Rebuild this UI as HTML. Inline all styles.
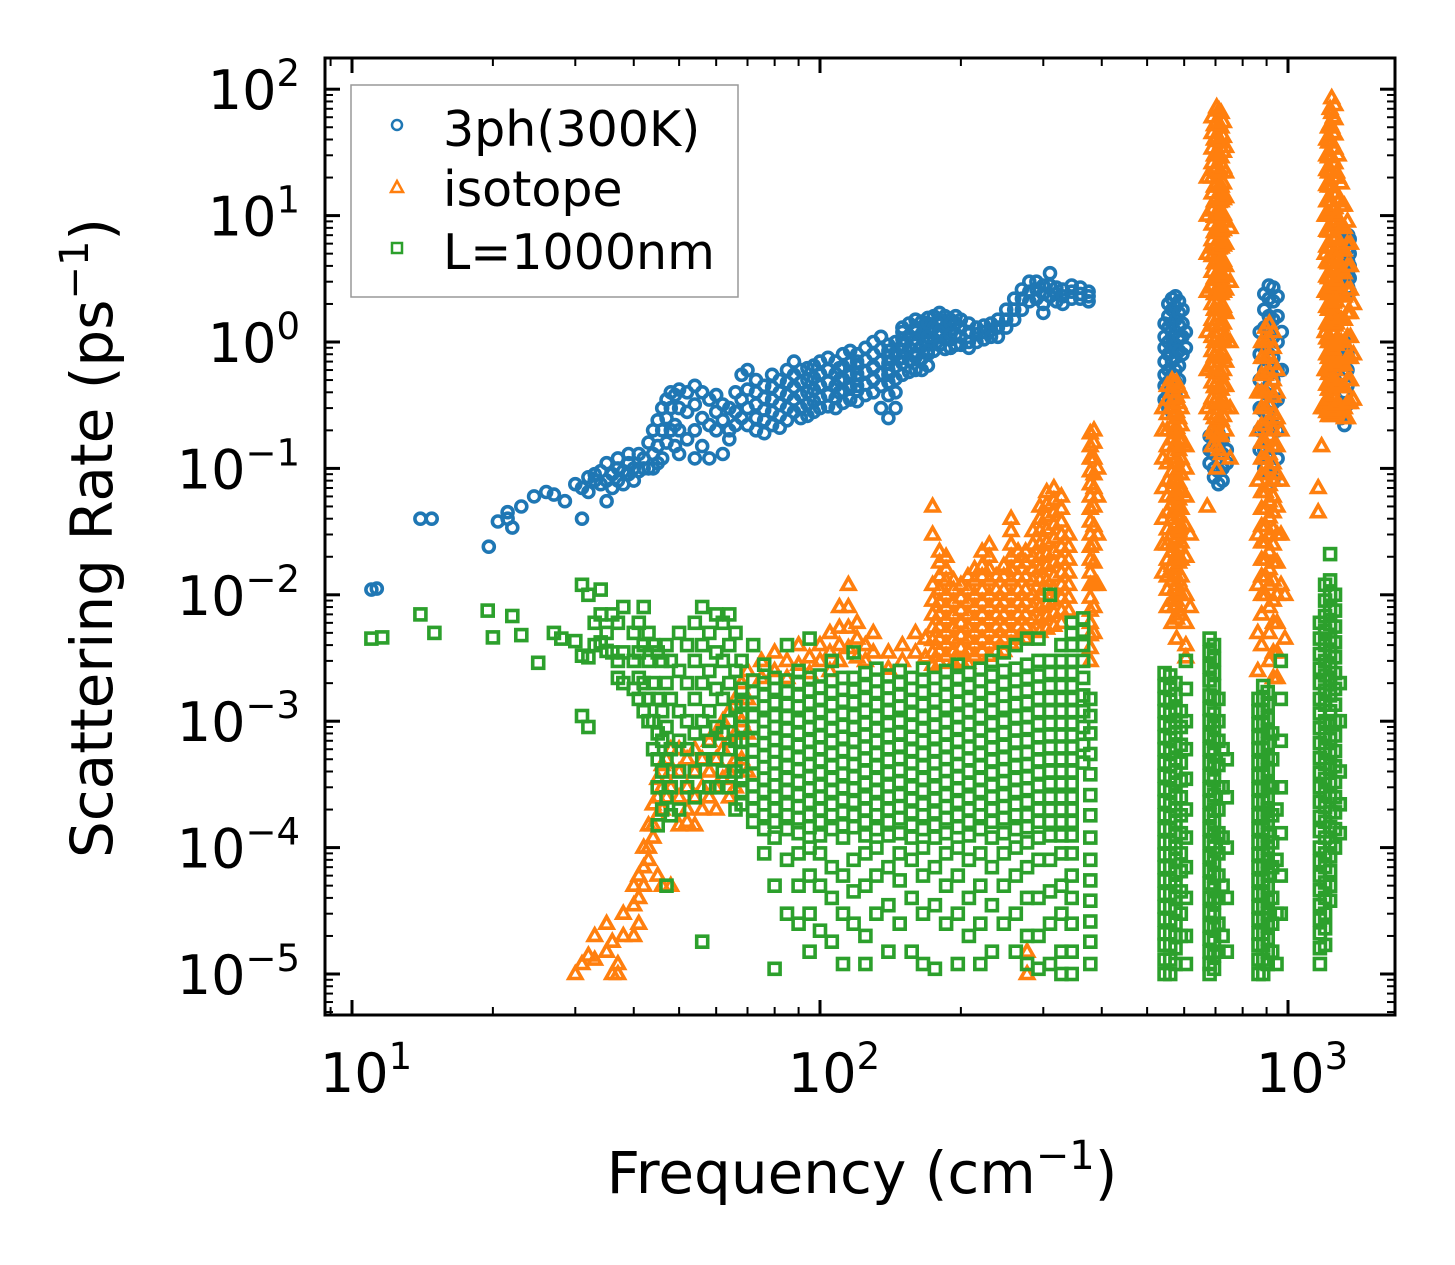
<!DOCTYPE html>
<html><head><meta charset="utf-8"><style>
html,body{margin:0;padding:0;background:#fff;}
svg{display:block;font-family:"DejaVu Sans","Liberation Sans",sans-serif;}
</style></head><body>
<svg id="chart" width="1455" height="1265" viewBox="0 0 1455 1265" xmlns="http://www.w3.org/2000/svg">
<rect x="0" y="0" width="1455" height="1265" fill="#fff"/>
<g id="marks"></g>
<g id="axes"></g>
<g id="legend">
<rect x="351" y="85" width="387" height="212" fill="#fff" fill-opacity="0.85" stroke="#999" stroke-width="1.5"/>
<g><circle cx="397" cy="125" r="5" fill="none" stroke="#1f77b4" stroke-width="2.5"/><text x="443" y="146" font-size="49">3ph(300K)</text></g>
<g><path d="M397,181 L403,192 L391,192 Z" fill="none" stroke="#ff7f0e" stroke-width="2.5"/><text x="443" y="206" font-size="49">isotope</text></g>
<g><rect x="392" y="243" width="10" height="10" fill="none" stroke="#2ca02c" stroke-width="2.5"/><text x="443" y="269" font-size="49">L=1000nm</text></g>
</g>
<text transform="translate(112,538) rotate(-90)" text-anchor="middle" font-size="58">Scattering Rate (ps<tspan dy="-24" font-size="40">−1</tspan><tspan dy="24">)</tspan></text>
<text x="862" y="1193" text-anchor="middle" font-size="58">Frequency (cm<tspan dy="-24" font-size="40">−1</tspan><tspan dy="24">)</tspan></text>
</svg>
<script>
// ---- axis configuration ----
const xTickExps = [1, 2, 3];
const yTickExps = [2, 1, 0, -1, -2, -3, -4, -5];

// ---- 3ph(300K) series: x column positions and y values per column ----
const blueX = [11,11.3,14,14.8,19.6,20.5,21.5,22,23,24.5,26,27,28.5,30,31,32,33,34,35,36,37,38,39,40,41,42,43,44,45,46,47,48,49,50,52,54,56,58,60,62,64,66,68,70,73,76,79,82,85,88,91,94,97,100,104,108,112,116,120,125,130,135,140,145,150,155,160,165,170,175,180,185,190,195,200,208,216,224,232,240,250,260,270,280,290,300,310,320,330,345,360,375,
 545,555,565,575,585,595,605, 680,695,710,725,740, 870,890,910,930,950,970, 1300,1320,1340,1345,1355,
 150,160,170,180,190,100,110,120,130,140];
const blueY = [[0.011],[0.0112],[0.04],[0.04],[0.024],[0.038],[0.045,0.04],[0.034],[0.05],[0.06],[0.065],[0.062],[0.055],[0.075],[0.04,0.07],[0.085,0.065],[0.09,0.08],[0.075,0.095],[0.055,0.11,0.08],[0.07,0.09],[0.1,0.12,0.08],[0.095,0.075],[0.11,0.09,0.13],[0.1,0.08],[0.13,0.095],[0.1,0.12],[0.16,0.1],[0.2,0.13,0.1],[0.24,0.15,0.11],[0.3,0.2,0.12],[0.35,0.25,0.16],[0.4,0.3,0.2],[0.38,0.22,0.15],[0.42,0.3,0.2,0.13],[0.4,0.28,0.17],[0.45,0.32,0.2,0.12],[0.4,0.25,0.15],[0.35,0.22,0.12],[0.38,0.28,0.2],[0.32,0.24,0.13],[0.3,0.2,0.17],[0.4,0.28,0.22],[0.55,0.35,0.25],[0.6,0.42,0.3,0.22],[0.5,0.4,0.32,0.25,0.2],[0.45,0.36,0.29,0.24,0.19],[0.55,0.44,0.35,0.28,0.22],[0.5,0.4,0.32,0.26,0.21],[0.6,0.48,0.38,0.3,0.24],[0.7,0.55,0.44,0.35,0.28],[0.6,0.48,0.38,0.3,0.25],[0.62,0.5,0.4,0.32,0.26],[0.65,0.52,0.42,0.34,0.28],[0.7,0.56,0.45,0.36,0.3],[0.75,0.6,0.48,0.38,0.31],[0.7,0.56,0.45,0.36,0.3],[0.8,0.64,0.51,0.41,0.33],[0.85,0.68,0.54,0.43,0.35],[0.8,0.64,0.51,0.41,0.34],[0.9,0.72,0.58,0.46,0.38],[1.0,0.8,0.64,0.51,0.4],[1.1,0.88,0.7,0.56,0.45,0.3],[0.95,0.76,0.6,0.48,0.38,0.25],[1.0,0.8,0.64,0.51,0.4,0.3],[1.3,1.05,0.85,0.68,0.55],[1.4,1.12,0.9,0.72,0.58],[1.5,1.2,0.95,0.76,0.6],[1.45,1.16,0.93,0.74,0.6],[1.55,1.25,1.0,0.8,0.65],[1.6,1.3,1.05,0.85],[1.7,1.4,1.15,0.95],[1.6,1.3,1.05,0.88],[1.5,1.25,1.05,0.9],[1.6,1.4,1.15,0.95],[1.5,1.3,1.1,0.95],[1.4,1.2,1.0,0.9],[1.3,1.15,1.0],[1.35,1.2,1.05],[1.4,1.25,1.1],[1.5,1.3,1.1],[1.8,1.5,1.3],[2.2,1.8,1.5],[2.6,2.2,1.8],[3.0,2.5,2.1],[3.0,2.6,2.2],[2.8,2.4,2.0,1.7],[3.5,2.8,2.3],[2.7,2.4,2.1],[2.6,2.3,2.0],[2.8,2.5,2.2],[2.7,2.4,2.2],[2.5,2.3,2.1],
 [1.4,1.1,0.9,0.7,0.55,0.45,0.35],[2.0,1.6,1.3,1.0,0.8,0.6,0.48,0.38,0.3],[2.2,1.8,1.4,1.1,0.9,0.7,0.55,0.45,0.35,0.28],[2.3,1.9,1.5,1.2,0.95,0.75,0.6,0.48,0.38],[2.1,1.7,1.35,1.1,0.85,0.65,0.5],[1.8,1.4,1.1,0.8],[1.2,0.9],
 [0.18,0.14,0.11],[0.2,0.16,0.13,0.1,0.085],[0.19,0.15,0.12,0.095,0.075],[0.17,0.13,0.1,0.08],[0.14,0.11],
 [1.2,0.8,0.5,0.3,0.2,0.14],[2.4,1.8,1.3,0.9,0.6,0.4,0.28,0.2,0.14,0.1],[2.8,2.2,1.6,1.2,0.8,0.55,0.38,0.26,0.18,0.12,0.09],[2.7,2.1,1.5,1.1,0.75,0.5,0.33,0.22,0.15,0.1,0.08],[2.3,1.6,1.0,0.6,0.35,0.2,0.12],[1.2,0.6],
 [0.9,0.65,0.45,0.32,0.25],[1.0,0.75,0.55,0.4,0.3,0.22],[0.8,0.6,0.45,0.32],[7,5.5,4.3,3.4,2.7],[6.5,5,4,3.2,2.5],
 [1.2,0.95,0.75],[1.3,1.05,0.8],[1.4,1.1,0.85],[1.5,1.2,0.95],[1.4,1.15,0.9],[0.55,0.45,0.36],[0.62,0.5,0.4],[0.7,0.56,0.45],[0.8,0.62,0.5],[0.85,0.68,0.55]];

// ---- isotope series ----
const orangeX = [30,31,32,33,35,36,37,38,40,41,42,43,44,45,46,47,48,50,52,54,56,58,60,62,64,66,68,70,75,80,85,90,95,100,105,110,115,120,125,130,140,150,160,168,
 174,180,186,193,200,207,214,222,230,238,247,256,265,275,285,295,305,316,328,340,277,
 378,385,392,
 540,552,565,578,591,605,618,
 672,688,704,720,736,752,
 862,878,895,912,930,948,966,985,
 1160,1180,1200,1220,1240,1260,1280,1300,1320,1340,1360,1380,
 696,712,728,1210,1230,1250,1270,571,584];
const orangeY = [[1e-5],[1.2e-5],[1.4e-5],[1.3e-5,2e-5],[1.5e-5,2.5e-5],[1e-5,1.8e-5],[1.2e-5,1e-5],[2e-5,3e-5],[2e-5,3.5e-5,5e-5],[4e-5,6e-5,2.5e-5],[7e-5,1e-4,5e-5],[1e-4,1.5e-4,8e-5],[1.5e-4,2.2e-4,1.2e-4],[2.5e-4,3.5e-4,1.8e-4,6e-5],[3e-4,4.5e-4,2e-4,5e-5],[3.5e-4,5e-4,2.5e-4],[4e-4,6e-4,3e-4,5e-5],[4e-4,6e-4,2.5e-4,1.5e-4],[5e-4,3e-4,2e-4,1.6e-4],[6e-4,4e-4,2.5e-4,1.5e-4],[5e-4,3e-4,2e-4],[7e-4,4e-4,2.5e-4],[8e-4,5e-4,3e-4,2e-4],[1e-3,6e-4,3.5e-4],[1.2e-3,7e-4,4e-4,2.5e-4],[1.5e-3,8e-4,5e-4,3e-4],[2e-3,1e-3,5e-4],[2.5e-3,1.5e-3,8e-4,4e-4],
 [3e-3,2.2e-3],[3.5e-3,2.5e-3],[3e-3,2.2e-3],[4e-3,2.8e-3],[3.2e-3,2.4e-3],[4e-3,3e-3],[5e-3,3.5e-3,2.5e-3],[8e-3,5.5e-3,4e-3,3e-3],[1.2e-2,8e-3,5.5e-3,3.8e-3],[6e-3,4.5e-3,3.2e-3],[4e-3,3e-3],[5e-3,3.5e-3],[3.5e-3,2.6e-3],[4e-3,3e-3],[5e-3,3.5e-3],[4.5e-3,3.2e-3],
 [0.05,0.03,0.012,0.009,0.007,0.0055,0.0044,0.0035,0.0028],[0.022,0.018,0.014,0.011,0.0088,0.007,0.0056,0.0045,0.0036,0.0029],[0.02,0.016,0.013,0.01,0.008,0.0064,0.0051,0.0041,0.0033],[0.013,0.011,0.0088,0.007,0.0056,0.0045,0.0036,0.0029],[0.012,0.0095,0.0076,0.006,0.0048,0.0038,0.003],[0.014,0.011,0.0088,0.007,0.0056,0.0045,0.0036,0.0029],[0.016,0.013,0.01,0.008,0.0064,0.0051,0.0041,0.0033],[0.022,0.017,0.014,0.011,0.0088,0.007,0.0056,0.0045,0.0036],[0.025,0.02,0.016,0.013,0.01,0.008,0.0064,0.0051,0.0041,0.0033],[0.014,0.011,0.0088,0.007,0.0056,0.0045,0.0036],[0.017,0.014,0.011,0.0088,0.007,0.0056,0.0045,0.0036],[0.04,0.032,0.025,0.02,0.016,0.013,0.01,0.008,0.0064,0.0051,0.0041],[0.022,0.018,0.014,0.011,0.0088,0.007,0.0056,0.0045],[0.022,0.018,0.014,0.011,0.0088,0.007,0.0056,0.0045],[0.032,0.025,0.02,0.016,0.013,0.01,0.008,0.0064,0.0051],[0.05,0.04,0.032,0.025,0.02,0.016,0.013,0.01,0.008,0.0064,0.0051],[0.065,0.052,0.042,0.033,0.026,0.021,0.017,0.013,0.011,0.0085,0.0068,0.0054],[0.07,0.056,0.045,0.036,0.028,0.022,0.018,0.014,0.011,0.009,0.0072,0.0057],[0.06,0.048,0.038,0.03,0.024,0.019,0.015,0.012,0.0095,0.0075,0.006],[0.03,0.024,0.019,0.015,0.012,0.0095,0.0075],[1e-5,1.5e-5],
 [0.19,0.15,0.12,0.095,0.075,0.06,0.048,0.038,0.03,0.024,0.019,0.015,0.012,0.0095,0.0075,0.006,0.0048,0.0038,0.003],[0.2,0.16,0.12,0.09,0.07,0.05,0.035,0.025,0.018,0.012,0.008,0.005],[0.1,0.06,0.03,0.012],
 [0.3,0.2,0.12,0.07,0.04,0.025,0.015],[0.45,0.35,0.27,0.2,0.15,0.11,0.08,0.06,0.045,0.033,0.025,0.019,0.014,0.011,0.008],[0.5,0.4,0.3,0.22,0.17,0.13,0.095,0.07,0.052,0.04,0.03,0.022,0.017,0.013,0.009,0.006],[0.48,0.37,0.28,0.21,0.16,0.12,0.09,0.066,0.05,0.037,0.028,0.021,0.016,0.012,0.009,0.0065,0.0045],[0.4,0.3,0.22,0.16,0.12,0.09,0.065,0.048,0.035,0.026,0.019,0.014,0.01,0.007],[0.15,0.1,0.06,0.035,0.02,0.01,0.006,0.004,0.0032],[0.03,0.008],
 [20,10,5,2.5,1.2,0.6,0.3,0.05],[60,45,34,26,20,15,11,8.5,6.4,4.8,3.6,2.7,2,1.5,1.1,0.85,0.64,0.48,0.36,0.27,0.2,0.15],[72,55,42,32,24,18,14,10.5,8,6,4.5,3.4,2.6,2,1.5,1.1,0.85,0.64,0.48,0.36,0.27,0.2,0.15,0.1],[65,50,38,29,22,17,13,10,7.5,5.6,4.2,3.2,2.4,1.8,1.35,1,0.75,0.56,0.42,0.32,0.24,0.18,0.13],[35,22,14,9,6,4,2.6,1.7,1.1,0.7,0.45,0.3,0.2],[8,3,1,0.3,0.12],
 [0.4,0.2,0.08,0.03,0.012,0.005,0.0025],[1.0,0.75,0.55,0.4,0.3,0.22,0.16,0.12,0.09,0.065,0.048,0.035,0.026,0.019,0.014,0.01,0.007,0.004],[1.3,1.0,0.75,0.55,0.4,0.3,0.22,0.16,0.12,0.09,0.065,0.048,0.035,0.026,0.019,0.014,0.01],[1.4,1.05,0.78,0.58,0.43,0.32,0.24,0.18,0.13,0.1,0.074,0.055,0.041,0.03,0.022,0.016,0.012,0.008,0.005,0.003],[1.2,0.9,0.67,0.5,0.37,0.27,0.2,0.15,0.11,0.08,0.06,0.045,0.033,0.025,0.018,0.013,0.009,0.006,0.0035,0.0022],[0.6,0.4,0.25,0.15,0.09,0.05,0.03,0.018,0.01,0.006,0.0035,0.0022],[0.2,0.08,0.03,0.012],[0.01,0.0045],
 [0.07,0.045],[0.3,0.15],[10,5,2.5,1.2,0.6,0.3],[50,38,29,22,17,13,10,7.5,5.6,4.2,3.2,2.4,1.8,1.35,1,0.75,0.56,0.42,0.32,0.26],[85,65,50,38,29,22,17,13,10,7.5,5.6,4.2,3.2,2.4,1.8,1.35,1,0.75,0.56,0.42,0.32,0.26],[75,58,44,34,26,20,15,11.5,8.8,6.7,5.1,3.9,3,2.3,1.75,1.35,1,0.78,0.6,0.46,0.35,0.27],[30,20,13,8.5,5.5,3.6,2.4,1.6,1.05,0.7,0.45,0.3],[18,12,8,5.3,3.5,2.3,1.5,1,0.66,0.44,0.3],[12,8,5.3,3.5,2.3,1.5,1,0.66,0.44,0.3,0.25],[9,6,4,2.6,1.7,1.1,0.75,0.5,0.33,0.25],[6,4,2.6,1.7,1.1,0.75,0.5,0.33],[2,0.8,0.35],
 [52,40,30,23,17,13,9.8,7.4,5.6,4.2,3.2,2.4,1.8,1.35,1,0.77,0.58,0.44,0.33,0.25,0.19],[68,52,39,30,22,17,12.8,9.7,7.3,5.5,4.2,3.1,2.4,1.8,1.35,1,0.77,0.58,0.44,0.33,0.25,0.19,0.14],[55,42,32,24,18,13.5,10.2,7.7,5.8,4.4,3.3,2.5,1.9,1.4,1.05,0.8,0.6,0.45,0.34,0.26],
 [40,30,23,17.5,13,10,7.6,5.7,4.3,3.3,2.5,1.9,1.4,1.07,0.8,0.6,0.46,0.35,0.28],[70,53,40,30,23,17.5,13,10,7.6,5.7,4.3,3.3,2.5,1.9,1.4,1.07,0.8,0.6,0.46,0.35,0.28],[60,45,34,26,20,15,11.3,8.5,6.4,4.8,3.6,2.7,2.05,1.55,1.17,0.88,0.66,0.5,0.38,0.29],[22,15,10,6.8,4.6,3.1,2.1,1.4,0.95,0.65,0.45,0.32],
 [0.47,0.36,0.27,0.2,0.15,0.11,0.082,0.062,0.046,0.034,0.026,0.019,0.014,0.011,0.008],[0.44,0.33,0.25,0.19,0.14,0.1,0.077,0.057,0.043,0.032,0.024,0.018,0.013,0.01,0.0075]];

// ---- L=1000nm boundary series ----
const greenX = [11,11.6,14,15,19.5,20,22,23,25,27,28,30,31,32,33,34,35,36,37,38,40,41,42,43,44,45,46,47,48,50,52,54,56,58,60,62,64,66,
 68,72,76,80,85,90,95,100,106,112,118,125,132,140,148,157,166,176,186,197,208,220,233,247,262,277,293,310,328,345,
 365,378,
 545,560,575,590,605,
 680,695,710,725,740,
 865,885,905,925,945,965,
 1170,1200,1230,1260,1290,1320,1350];
const greenY = [[4.5e-3],[4.6e-3],[7e-3],[5e-3],[7.5e-3],[4.6e-3],[6.8e-3],[4.8e-3],[2.9e-3],[5e-3],[4.5e-3],[4.3e-3],[1.2e-2,3.3e-3,1.1e-3],[1e-2,3.2e-3,9e-4],[6e-3,4e-3],[1.1e-2,7e-3,4.2e-3],[5e-3,3.6e-3],[7e-3,3.5e-3],[6e-3,3e-3,2.2e-3],[8e-3,3.5e-3,2e-3],[5e-3,3e-3,1.8e-3],[6e-3,3.5e-3,2.2e-3,1.5e-3],[8e-3,4e-3,2e-3,1.2e-3],[5e-3,3e-3,1.5e-3,1e-3],[4e-3,2e-3,1e-3,6e-4],[3.5e-3,1.5e-3,8e-4,5e-4,3e-4,1.5e-4],[3e-3,1.2e-3,7e-4,4e-4,2e-4],[4e-3,2e-3,9e-4,5e-4,2.5e-4,5e-5],[3e-3,1.5e-3,6e-4,3e-4,1.8e-4],[5e-3,2.5e-3,1.2e-3,7e-4,4e-4,2e-4],[4e-3,2e-3,1e-3,6e-4,3e-4],[6e-3,3e-3,1.5e-3,8e-4,4e-4,2.5e-4],[8e-3,4e-3,2e-3,1e-3,5e-4,1.8e-5],[5e-3,2.5e-3,1.2e-3,7e-4,3e-4],[7e-3,3.5e-3,1.8e-3,9e-4,5e-4,3e-4],[6e-3,3e-3,1.5e-3,8e-4,4e-4],[7e-3,4e-3,2e-3,1e-3,6e-4,3e-4],[5e-3,2.5e-3,1.3e-3,7e-4,4e-4,2e-4],
 [3e-3,1.8e-3,1.4e-3,1.1e-3,9e-4,7e-4,5.6e-4,4.5e-4,3.6e-4,2.8e-4,2.2e-4],
 [4e-3,2.1e-3,1.7e-3,1.4e-3,1.1e-3,9e-4,7.2e-4,5.8e-4,4.7e-4,3.8e-4,3.1e-4,2.5e-4,2e-4,1.6e-4],
 [2.8e-3,2e-3,1.6e-3,1.3e-3,1e-3,8.2e-4,6.6e-4,5.3e-4,4.3e-4,3.5e-4,2.8e-4,2.2e-4,1.8e-4,1.4e-4,9e-5],
 [2.2e-3,1.8e-3,1.4e-3,1.1e-3,9e-4,7.2e-4,5.8e-4,4.7e-4,3.8e-4,3.1e-4,2.5e-4,2e-4,1.6e-4,1.2e-4,5e-5,1.1e-5],
 [4e-3,2.1e-3,1.7e-3,1.35e-3,1.08e-3,8.6e-4,6.9e-4,5.5e-4,4.4e-4,3.5e-4,2.8e-4,2.2e-4,1.8e-4,1.4e-4,8e-5,3e-5],
 [2.5e-3,2e-3,1.6e-3,1.3e-3,1e-3,8e-4,6.4e-4,5.1e-4,4.1e-4,3.3e-4,2.6e-4,2.1e-4,1.7e-4,1.3e-4,9e-5,5e-5,2.5e-5],
 [4.5e-3,2.2e-3,1.75e-3,1.4e-3,1.1e-3,8.8e-4,7e-4,5.6e-4,4.5e-4,3.6e-4,2.9e-4,2.3e-4,1.8e-4,1.45e-4,1e-4,6e-5,3e-5,1.5e-5],
 [2.3e-3,1.85e-3,1.5e-3,1.2e-3,9.5e-4,7.6e-4,6.1e-4,4.9e-4,3.9e-4,3.1e-4,2.5e-4,2e-4,1.6e-4,1.25e-4,9e-5,5e-5,2.2e-5],
 [3e-3,2.1e-3,1.7e-3,1.35e-3,1.08e-3,8.6e-4,6.9e-4,5.5e-4,4.4e-4,3.5e-4,2.8e-4,2.2e-4,1.8e-4,1.4e-4,7e-5,4e-5,1.8e-5],
 [2.2e-3,1.8e-3,1.45e-3,1.15e-3,9.2e-4,7.4e-4,5.9e-4,4.7e-4,3.8e-4,3e-4,2.4e-4,1.9e-4,1.5e-4,1.2e-4,6e-5,3e-5,1.2e-5],
 [3.5e-3,2.2e-3,1.75e-3,1.4e-3,1.1e-3,8.8e-4,7e-4,5.6e-4,4.5e-4,3.6e-4,2.9e-4,2.3e-4,1.8e-4,1.45e-4,8e-5,4.5e-5,2.5e-5],
 [2.4e-3,1.9e-3,1.5e-3,1.2e-3,9.6e-4,7.7e-4,6.2e-4,5e-4,4e-4,3.2e-4,2.5e-4,2e-4,1.6e-4,1.25e-4,9e-5,5e-5,2e-5,1.2e-5],
 [2.6e-3,2.1e-3,1.7e-3,1.35e-3,1.08e-3,8.6e-4,6.9e-4,5.5e-4,4.4e-4,3.5e-4,2.8e-4,2.2e-4,1.8e-4,1.4e-4,1e-4,6e-5,3e-5],
 [2.3e-3,1.85e-3,1.5e-3,1.2e-3,9.5e-4,7.6e-4,6.1e-4,4.9e-4,3.9e-4,3.1e-4,2.5e-4,2e-4,1.6e-4,1.25e-4,7e-5,3.5e-5,1.5e-5],
 [2.5e-3,2e-3,1.6e-3,1.3e-3,1e-3,8e-4,6.4e-4,5.1e-4,4.1e-4,3.3e-4,2.6e-4,2.1e-4,1.7e-4,1.3e-4,9e-5,5.5e-5,2.5e-5],
 [2.2e-3,1.8e-3,1.45e-3,1.15e-3,9.2e-4,7.4e-4,5.9e-4,4.7e-4,3.8e-4,3e-4,2.4e-4,1.9e-4,1.5e-4,1.2e-4,8e-5,4e-5,1.5e-5],
 [2.6e-3,2.1e-3,1.7e-3,1.35e-3,1.08e-3,8.6e-4,6.9e-4,5.5e-4,4.4e-4,3.5e-4,2.8e-4,2.2e-4,1.8e-4,1.4e-4,1e-4,6e-5,3e-5,1.2e-5],
 [2.2e-3,1.8e-3,1.45e-3,1.15e-3,9.2e-4,7.4e-4,5.9e-4,4.7e-4,3.8e-4,3e-4,2.4e-4,1.9e-4,1.5e-4,1.2e-4,7e-5,3.5e-5,1.1e-5],
 [2.5e-3,2e-3,1.6e-3,1.3e-3,1e-3,8e-4,6.4e-4,5.1e-4,4.1e-4,3.3e-4,2.6e-4,2.1e-4,1.7e-4,1.3e-4,9e-5,5e-5,2.5e-5],
 [2.8e-3,2.2e-3,1.75e-3,1.4e-3,1.1e-3,8.8e-4,7e-4,5.6e-4,4.5e-4,3.6e-4,2.9e-4,2.3e-4,1.8e-4,1.45e-4,1e-4,6e-5,3e-5,1.2e-5],
 [2.4e-3,1.9e-3,1.5e-3,1.2e-3,9.6e-4,7.7e-4,6.2e-4,5e-4,4e-4,3.2e-4,2.5e-4,2e-4,1.6e-4,1.25e-4,8e-5,4e-5,2e-5],
 [2.6e-3,2.1e-3,1.7e-3,1.35e-3,1.08e-3,8.6e-4,6.9e-4,5.5e-4,4.4e-4,3.5e-4,2.8e-4,2.2e-4,1.8e-4,1.4e-4,9e-5,5e-5,2.5e-5,1.2e-5],
 [3e-3,2.3e-3,1.85e-3,1.5e-3,1.2e-3,9.5e-4,7.6e-4,6.1e-4,4.9e-4,3.9e-4,3.1e-4,2.5e-4,2e-4,1.6e-4,1.2e-4,7e-5,3.5e-5,1.5e-5],
 [3.5e-3,2.5e-3,2e-3,1.6e-3,1.3e-3,1e-3,8e-4,6.4e-4,5.1e-4,4.1e-4,3.3e-4,2.6e-4,2.1e-4,1.7e-4,1.3e-4,9e-5,5e-5,2.5e-5],
 [4e-3,2.6e-3,2.1e-3,1.7e-3,1.35e-3,1.08e-3,8.6e-4,6.9e-4,5.5e-4,4.4e-4,3.5e-4,2.8e-4,2.2e-4,1.8e-4,1.4e-4,1e-4,6e-5,3e-5,1.5e-5],
 [4.5e-3,2.8e-3,2.2e-3,1.75e-3,1.4e-3,1.1e-3,8.8e-4,7e-4,5.6e-4,4.5e-4,3.6e-4,2.9e-4,2.3e-4,1.8e-4,1.45e-4,1.1e-4,7e-5,4e-5,2e-5,1.2e-5],
 [4.5e-3,3e-3,2.3e-3,1.85e-3,1.5e-3,1.2e-3,9.5e-4,7.6e-4,6.1e-4,4.9e-4,3.9e-4,3.1e-4,2.5e-4,2e-4,1.6e-4,1.2e-4,8e-5,4e-5,2e-5,1.1e-5],
 [1e-2,3e-3,2.4e-3,1.9e-3,1.5e-3,1.2e-3,9.6e-4,7.7e-4,6.2e-4,5e-4,4e-4,3.2e-4,2.5e-4,2e-4,1.6e-4,1.25e-4,8e-5,4.5e-5,2.5e-5,1.2e-5],
 [4e-3,3e-3,2.4e-3,1.9e-3,1.5e-3,1.2e-3,9.6e-4,7.7e-4,6.2e-4,5e-4,4e-4,3.2e-4,2.5e-4,2e-4,1.6e-4,1.25e-4,9e-5,5e-5,3e-5,1.5e-5,1e-5],
 [6e-3,5e-3,4e-3,3e-3,2.4e-3,1.9e-3,1.5e-3,1.2e-3,9.6e-4,7.7e-4,6.2e-4,5e-4,4e-4,3.2e-4,2.5e-4,2e-4,1.6e-4,1.25e-4,9e-5,6e-5,4e-5,2.5e-5,1.5e-5,1e-5],
 [6.5e-3,5.2e-3,4e-3,3e-3,2.2e-3,1.6e-3,1.2e-3,9e-4,6.5e-4,4.7e-4],
 [1.5e-3,1.1e-3,8e-4,5.5e-4,3.8e-4,2.6e-4,1.8e-4,1.2e-4,8e-5,5.5e-5,3.8e-5,2.6e-5,1.8e-5,1.2e-5],
 [2.4e-3,1.9e-3,1.5e-3,1.2e-3,9.5e-4,7.5e-4,6e-4,4.7e-4,3.7e-4,2.9e-4,2.3e-4,1.8e-4,1.4e-4,1.1e-4,8.8e-5,7e-5,5.5e-5,4.3e-5,3.4e-5,2.7e-5,2.1e-5,1.7e-5,1.3e-5,1e-5],
 [2.3e-3,1.8e-3,1.45e-3,1.15e-3,9e-4,7.2e-4,5.7e-4,4.5e-4,3.6e-4,2.8e-4,2.2e-4,1.75e-4,1.4e-4,1.1e-4,8.8e-5,7e-5,5.5e-5,4.3e-5,3.4e-5,2.7e-5,2.1e-5,1.7e-5,1.3e-5,1e-5],
 [2e-3,1.6e-3,1.25e-3,1e-3,8e-4,6.3e-4,5e-4,4e-4,3.2e-4,2.5e-4,2e-4,1.6e-4,1.25e-4,1e-4,8e-5,6.3e-5,5e-5,4e-5,3.2e-5,2.5e-5,2e-5,1.6e-5,1.2e-5],
 [1.2e-3,9e-4,6.5e-4,4.7e-4,3.4e-4,2.5e-4,1.8e-4,1.3e-4,9e-5,6.5e-5,4.5e-5,3e-5,2e-5],
 [3e-3,1.8e-3,1e-3,6e-4,3.5e-4,2e-4,1.2e-4,7e-5,4e-5,2e-5,1.2e-5],
 [4.5e-3,3.5e-3,2.7e-3,2.1e-3,1.6e-3,1.25e-3,1e-3,7.7e-4,6e-4,4.7e-4,3.7e-4,2.9e-4,2.3e-4,1.8e-4,1.4e-4,1.1e-4,8.5e-5,6.6e-5,5.2e-5,4e-5,3.1e-5,2.4e-5,1.9e-5,1.5e-5,1.2e-5,1e-5],
 [4e-3,3.1e-3,2.4e-3,1.9e-3,1.5e-3,1.15e-3,9e-4,7e-4,5.5e-4,4.3e-4,3.4e-4,2.6e-4,2e-4,1.6e-4,1.25e-4,1e-4,7.7e-5,6e-5,4.7e-5,3.7e-5,2.9e-5,2.3e-5,1.8e-5,1.4e-5,1.1e-5],
 [1.5e-3,1e-3,7e-4,4.5e-4,3e-4,2e-4,1.3e-4,9e-5,6e-5,4e-5,2.5e-5,1.5e-5],
 [6e-4,3e-4,1.2e-4,5e-5,2e-5],
 [5e-4,2.5e-4,1e-4,4e-5,1.5e-5],
 [1.5e-3,1.2e-3,9.5e-4,7.5e-4,6e-4,4.7e-4,3.7e-4,2.9e-4,2.3e-4,1.8e-4,1.4e-4,1.1e-4,8.8e-5,7e-5,5.5e-5,4.3e-5,3.4e-5,2.7e-5,2.1e-5,1.7e-5,1.3e-5,1e-5],
 [1.9e-3,1.5e-3,1.2e-3,9.5e-4,7.5e-4,6e-4,4.7e-4,3.7e-4,2.9e-4,2.3e-4,1.8e-4,1.4e-4,1.1e-4,8.8e-5,7e-5,5.5e-5,4.3e-5,3.4e-5,2.7e-5,2.1e-5,1.7e-5,1.3e-5,1e-5],
 [1.7e-3,1.35e-3,1.05e-3,8.4e-4,6.6e-4,5.2e-4,4.1e-4,3.2e-4,2.5e-4,2e-4,1.6e-4,1.25e-4,1e-4,7.8e-5,6.2e-5,4.9e-5,3.8e-5,3e-5,2.4e-5,1.9e-5,1.5e-5,1.2e-5],
 [8e-4,5e-4,3e-4,1.8e-4,1.1e-4,7e-5,4e-5,2.5e-5,1.5e-5],
 [2e-4,8e-5,3e-5,1.2e-5],
 [3e-3,1.5e-3,7e-4,3e-4,1.3e-4,6e-5,3e-5],
 [6e-3,4.5e-3,3.4e-3,2.6e-3,2e-3,1.5e-3,1.15e-3,8.8e-4,6.7e-4,5.1e-4,3.9e-4,3e-4,2.3e-4,1.75e-4,1.35e-4,1e-4,7.8e-5,6e-5,4.6e-5,3.5e-5,2.7e-5,2.1e-5,1.6e-5,1.2e-5],
 [1.2e-2,9e-3,6.8e-3,5.2e-3,4e-3,3e-3,2.3e-3,1.75e-3,1.35e-3,1e-3,7.8e-4,6e-4,4.6e-4,3.5e-4,2.7e-4,2.1e-4,1.6e-4,1.2e-4,9e-5,7e-5,5.3e-5,4e-5,3e-5,2.3e-5,1.7e-5],
 [1.3e-2,2.1e-2,1e-2,7.7e-3,5.9e-3,4.5e-3,3.5e-3,2.7e-3,2.1e-3,1.6e-3,1.2e-3,9.4e-4,7.2e-4,5.5e-4,4.2e-4,3.2e-4,2.5e-4,1.9e-4,1.45e-4,1.1e-4,8.5e-5,6.5e-5,5e-5,3.8e-5],
 [1e-2,7.5e-3,5.6e-3,4.2e-3,3.2e-3,2.4e-3,1.8e-3,1.35e-3,1e-3,7.7e-4,5.8e-4,4.4e-4,3.3e-4,2.5e-4,1.9e-4,1.4e-4,1e-4],
 [2e-3,1e-3,4e-4,2.2e-4,1.3e-4]];

// ---- scales ----
const X0 = 352, XD = 468;   // pixel of 10^1, px per decade
const Y0 = 342, YD = 126.4; // pixel of 10^0, px per decade
function xs(v){ return X0 + XD*(Math.log10(v) - 1); }
function ys(v){ return Y0 - YD*Math.log10(v); }

const NS = 'http://www.w3.org/2000/svg';
const marks = document.getElementById('marks');
const axes = document.getElementById('axes');

const clip = document.createElementNS(NS,'clipPath');
clip.setAttribute('id','plotclip');
const cr = document.createElementNS(NS,'rect');
cr.setAttribute('x','325'); cr.setAttribute('y','58'); cr.setAttribute('width','1070'); cr.setAttribute('height','957');
clip.appendChild(cr);
document.getElementById('chart').appendChild(clip);
marks.setAttribute('clip-path','url(#plotclip)');

function drawSeries(xArr, yArr, kind, color, name){
  const g = document.createElementNS(NS,'g');
  
  
  g.setAttribute('fill','none');
  g.setAttribute('stroke',color);
  g.setAttribute('stroke-width','3.6');
  for (let i=0;i<xArr.length;i++){
    const col = yArr[i] || [];
    for (let j=0;j<col.length;j++){
      const cx = xs(xArr[i]), cy = ys(col[j]);
      let el;
      if (kind==='circle'){
        el = document.createElementNS(NS,'circle');
        el.setAttribute('cx',cx.toFixed(1)); el.setAttribute('cy',cy.toFixed(1)); el.setAttribute('r','5.5');
      } else if (kind==='tri'){
        el = document.createElementNS(NS,'path');
        el.setAttribute('d','M'+cx.toFixed(1)+','+(cy-7).toFixed(1)+' l6.5,11.5 l-13,0 Z');
      } else {
        el = document.createElementNS(NS,'rect');
        el.setAttribute('x',(cx-5.5).toFixed(1)); el.setAttribute('y',(cy-5.5).toFixed(1));
        el.setAttribute('width','11'); el.setAttribute('height','11');
      }
      
      
      g.appendChild(el);
    }
  }
  marks.appendChild(g);
}
drawSeries(blueX, blueY, 'circle', '#1f77b4', 'series-3ph');
drawSeries(orangeX, orangeY, 'tri', '#ff7f0e', 'series-isotope');
drawSeries(greenX, greenY, 'square', '#2ca02c', 'series-boundary');

// ---- axes frame & ticks ----
const L=325, R=1395, T=58, B=1015;
function line(x1,y1,x2,y2,w){
  const l = document.createElementNS(NS,'line');
  l.setAttribute('x1',x1); l.setAttribute('y1',y1); l.setAttribute('x2',x2); l.setAttribute('y2',y2);
  l.setAttribute('stroke','#000'); l.setAttribute('stroke-width',w);
  
  
  axes.appendChild(l);
}
for (let e=0;e<=3;e++){
  for (let m=1;m<=9;m++){
    const v = m*Math.pow(10,e);
    const px = xs(v);
    if (px<L||px>R) continue;
    const len = m===1?15:8, w = m===1?3:2;
    line(px,B,px,B-len,w); line(px,T,px,T+len,w);
  }
}
for (let e=-6;e<=2;e++){
  for (let m=1;m<=9;m++){
    const v = m*Math.pow(10,e);
    const py = ys(v);
    if (py<T||py>B) continue;
    const len = m===1?15:8, w = m===1?3:2;
    line(L,py,L+len,py,w); line(R,py,R-len,py,w);
  }
}
const frame = document.createElementNS(NS,'rect');
frame.setAttribute('x',L); frame.setAttribute('y',T); frame.setAttribute('width',R-L); frame.setAttribute('height',B-T);
frame.setAttribute('fill','none'); frame.setAttribute('stroke','#000'); frame.setAttribute('stroke-width','3');


axes.appendChild(frame);

function sup(e){ return e<0 ? '−'+(-e) : String(e); }
xTickExps.forEach(function(e){
  const t = document.createElementNS(NS,'text');
  t.setAttribute('x', (xs(Math.pow(10,e))+14).toFixed(1));
  t.setAttribute('y','1092');
  t.setAttribute('text-anchor','middle');
  t.setAttribute('font-size','54');
  t.innerHTML = '10<tspan dy="-23" font-size="37">'+sup(e)+'</tspan>';
  
  
  axes.appendChild(t);
});
yTickExps.forEach(function(e){
  const t = document.createElementNS(NS,'text');
  t.setAttribute('x','300');
  t.setAttribute('y', (ys(Math.pow(10,e))+20).toFixed(1));
  t.setAttribute('text-anchor','end');
  t.setAttribute('font-size','54');
  t.innerHTML = '10<tspan dy="-23" font-size="37">'+sup(e)+'</tspan>';
  
  
  axes.appendChild(t);
});
</script>
</body></html>
